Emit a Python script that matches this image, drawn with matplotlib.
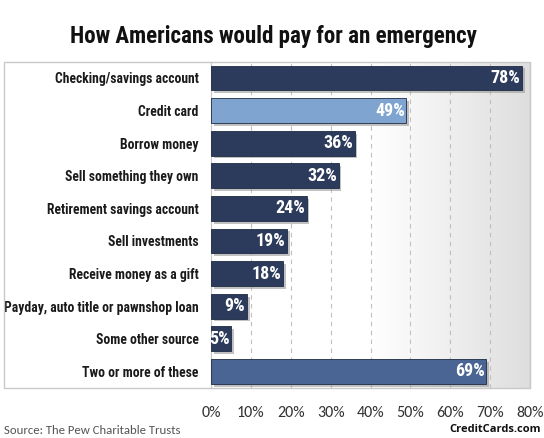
import numpy as np
import matplotlib.pyplot as plt
from matplotlib.colors import LinearSegmentedColormap
from matplotlib.patches import Rectangle
import matplotlib.patheffects as pe
import logging
logging.getLogger("matplotlib.font_manager").setLevel(logging.ERROR)

categories = ["Checking/savings account", "Credit card", "Borrow money",
              "Sell something they own", "Retirement savings account",
              "Sell investments", "Receive money as a gift",
              "Payday, auto title or pawnshop loan", "Some other source",
              "Two or more of these"]
values = [78, 49, 36, 32, 24, 19, 18, 9, 5, 69]
tick_values = [0, 10, 20, 30, 40, 50, 60, 70, 80]
tick_labels = ["0%", "10%", "20%", "30%", "40%", "50%", "60%", "70%", "80%"]

navy = "#2c3a5c"
bar_colors = [navy, "#7fa4cf", navy, navy, navy, navy, navy, navy, navy, "#4a6593"]

cond = dict(family=["Roboto Condensed", "DejaVu Sans"], fontweight="bold")
plain = ["Carlito", "Open Sans", "DejaVu Sans"]

W, H = 544, 438
fig = plt.figure(figsize=(W / 100, H / 100), dpi=100)

# plot area in pixels
x0, x1 = 211, 530
ytop, ybot = 61.7, 387.7
ax = fig.add_axes([x0 / W, 1 - ybot / H, (x1 - x0) / W, (ybot - ytop) / H])

# outer frame around labels and bars
fig.patches.append(Rectangle((4 / W, 1 - ybot / H), (x1 - 4) / W, (ybot - ytop) / H,
                             transform=fig.transFigure, fill=False,
                             edgecolor="#c8c8c8", linewidth=1.0, zorder=0))

# gradient background
grad = np.linspace(0, 1, 256).reshape(1, -1)
ax.imshow(grad, cmap=LinearSegmentedColormap.from_list(
    "bg", ["#ffffff", "#ffffff", "#dedede"]), aspect="auto",
    extent=[0, 1, 0, 1], transform=ax.transAxes, zorder=0)

y = np.arange(len(categories))
bars = ax.barh(y, values, height=0.76, color=bar_colors, edgecolor="#1e2a44",
               linewidth=0.6, zorder=3)
for b in bars:
    b.set_path_effects([pe.SimplePatchShadow(offset=(2, -2), shadow_rgbFace="#999999", alpha=0.6),
                        pe.Normal()])

for yi, v in zip(y, values):
    ax.text(v - 0.4, yi, f"{v}%", ha="right", va="center", color="white",
            fontsize=13, zorder=5, **cond)

ax.set_xlim(0, 80)
ax.set_ylim(len(categories) - 0.5, -0.5)
ax.set_xticks(tick_values)
ax.set_xticklabels(tick_labels, fontsize=11.5, color="#333333", family=plain)
ax.tick_params(axis="x", length=0, pad=13)
ax.set_yticks(y)
ax.set_yticklabels(categories, fontsize=9.8, color="#1a1a1a", **cond)
ax.tick_params(axis="y", length=0, pad=9)
ax.grid(axis="x", linestyle=(0, (4, 4)), color="#c0c0c0", linewidth=0.8, zorder=1)
for s in ax.spines.values():
    s.set_visible(False)
ax.spines["right"].set_visible(True)
ax.spines["right"].set_color("#c8c8c8")
ax.spines["left"].set_visible(True)
ax.spines["left"].set_color("#c8c8c8")

fig.text(273 / W, 1 - 36 / H, "How Americans would pay for an emergency",
         ha="center", va="center", fontsize=16.6, color="#111111", **cond)
fig.text(4 / W, 1 - 430 / H, "Source: The Pew Charitable Trusts", ha="left",
         va="center", fontsize=9.2, color="#555555", family=plain)
fig.text(541 / W, 1 - 430 / H, "CreditCards.com", ha="right", va="center",
         fontsize=8, color="#111111", fontweight="bold", family=["Open Sans", "DejaVu Sans"])

fig.savefig("out.png", dpi=100)
